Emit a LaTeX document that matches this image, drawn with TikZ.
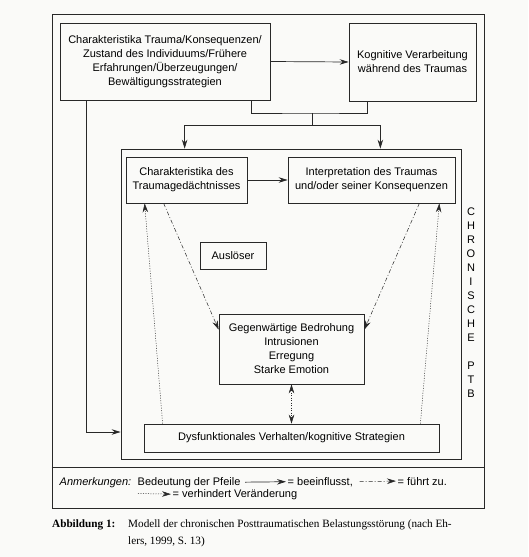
\documentclass[tikz,border=0pt]{standalone}
\usepackage{fontspec}
\setmainfont{Liberation Serif}
\setsansfont{Liberation Sans}
\usetikzlibrary{arrows.meta,positioning}
\definecolor{ehink}{RGB}{40,40,40}
\definecolor{ehpaper}{RGB}{250,250,248}
\tikzset{
  boxnode/.style={rectangle,draw=ehink,line width=0.7pt,align=center,inner sep=2pt,
    font=\sffamily\fontsize{11}{14}\selectfont},
  framenode/.style={rectangle,draw=ehink,line width=0.7pt,inner sep=0pt},
  plainline/.style={draw=ehink,line width=0.7pt},
  inflarrow/.style={-{Stealth[length=9pt,width=5.5pt,inset=3pt]},draw=ehink,line width=0.7pt},
  leadarrow/.style={-{Stealth[length=9pt,width=5.5pt,inset=3pt]},draw=ehink,line width=0.5pt,
    dash pattern=on 4pt off 2pt on 1pt off 2pt},
  blockarrow/.style={-{Stealth[length=9pt,width=5.5pt,inset=3pt]},draw=ehink,line width=0.5pt,
    dash pattern=on 1pt off 1.5pt},
  legendtext/.style={anchor=base west,inner sep=1.5pt,font=\sffamily\fontsize{11}{12}\selectfont},
  captiontext/.style={anchor=base west,inner sep=0pt,font=\fontsize{11.2}{14}\selectfont}
}

\begin{document}
\begin{tikzpicture}[x=1pt,y=-1pt]
  \fill[ehpaper] (0,0) rectangle (528,557);
  \useasboundingbox (0,0) rectangle (528,557);
  \node[framenode,minimum width=432pt,minimum height=494pt] (outer) at (268,261) {};
  \draw[plainline] (outer.west |- 0,467) -- (outer.east |- 0,467);
  \node[boxnode,minimum width=210pt,minimum height=77pt] (trauma) at (165,61.5)
    {Charakteristika Trauma/Konsequenzen/\\Zustand des Individuums/Frühere\\Erfahrungen/Überzeugungen/\\Bewältigungsstrategien};
  \node[boxnode,minimum width=127pt,minimum height=78pt] (kogver) at (412.5,62)
    {Kognitive Verarbeitung\\während des Traumas};
  \node[framenode,minimum width=340pt,minimum height=310pt] (chron) at (291,304) {};
  \node[boxnode,minimum width=121pt,minimum height=46pt] (gedaecht) at (186.5,180)
    {Charakteristika des\\Traumagedächtnisses};
  \node[boxnode,minimum width=167pt,minimum height=46pt] (interp) at (371.5,180)
    {Interpretation des Traumas\\und/oder seiner Konsequenzen};
  \node[boxnode,minimum width=66pt,minimum height=27pt] (ausl) at (233,255.5) {Auslöser};
  \node[boxnode,minimum width=145pt,minimum height=70pt] (bedroh) at (291.5,349)
    {Gegenwärtige Bedrohung\\Intrusionen\\Erregung\\Starke Emotion};
  \node[boxnode,minimum width=295pt,minimum height=28pt] (dysf) at (291.5,438)
    {Dysfunktionales Verhalten/kognitive Strategien};
  \node[align=center,inner sep=0pt,font=\sffamily\fontsize{11}{14}\selectfont] (chronlbl) at (471,302.5)
    {C\\H\\R\\O\\N\\I\\S\\C\\H\\E\\[14pt]P\\T\\B};
  % solid arrows
  \draw[inflarrow] (trauma.east) -- (kogver.west);
  \coordinate (join) at (312,113);
  \coordinate (split) at (312,125);
  \draw[plainline] ([xshift=-19pt]trauma.south east) |- (join) -| ([xshift=19pt]kogver.south west);
  \draw[plainline] (join) -- (split);
  \draw[inflarrow] (split) -| ([xshift=64pt]chron.north west);
  \draw[inflarrow] (split) -| ([xshift=-81pt]chron.north east);
  \draw[inflarrow] ([xshift=27pt]trauma.south west) |- ([yshift=6pt]chron.west |- dysf.west);
  \draw[inflarrow] (gedaecht) -- (interp);
  % dash-dotted arrows
  \draw[leadarrow] ([xshift=38pt]gedaecht.south west) -- ([yshift=-16pt]bedroh.north west);
  \draw[leadarrow] ([xshift=-36pt]interp.south east) -- ([yshift=-16pt]bedroh.north east);
  % dotted arrows
  \draw[blockarrow] ([xshift=19pt]dysf.north west) -- ([xshift=19pt]gedaecht.south west);
  \draw[blockarrow] ([xshift=-19pt]dysf.north east) -- ([xshift=-16pt]interp.south east);
  \draw[blockarrow,{Stealth[length=9pt,width=5.5pt,inset=3pt]}-{Stealth[length=9pt,width=5.5pt,inset=3pt]}]
    (bedroh.south) -- (dysf.north);
  % legend
  \node[legendtext,font=\sffamily\itshape\fontsize{11}{12}\selectfont] (lgnote) at (58,485) {Anmerkungen:};
  \node[legendtext] (lgbed) at (136,485) {Bedeutung der Pfeile};
  \node[legendtext] (lgbee) at (286,485) {= beeinflusst,};
  \node[legendtext] (lgfue) at (396,485) {= führt zu.};
  \node[legendtext] (lgver) at (171,497) {= verhindert Veränderung};
  \coordinate (lgdot) at (138,493.5);
  \draw[inflarrow] ([xshift=3pt]lgbed.east) -- (lgbee.west);
  \draw[leadarrow] ([xshift=5pt]lgbee.east) -- (lgfue.west);
  \draw[blockarrow] (lgdot) -- (lgver.west);
  % caption
  \node[captiontext,font=\bfseries\fontsize{11.2}{14}\selectfont] (capnum) at (52,527) {Abbildung 1:};
  \node[captiontext] (capline) at (128,527)
    {Modell der chronischen Posttraumatischen Belastungsstörung (nach Eh-};
  \node[captiontext] (capend) at (128,544) {lers, 1999, S. 13)};
\end{tikzpicture}
\end{document}
